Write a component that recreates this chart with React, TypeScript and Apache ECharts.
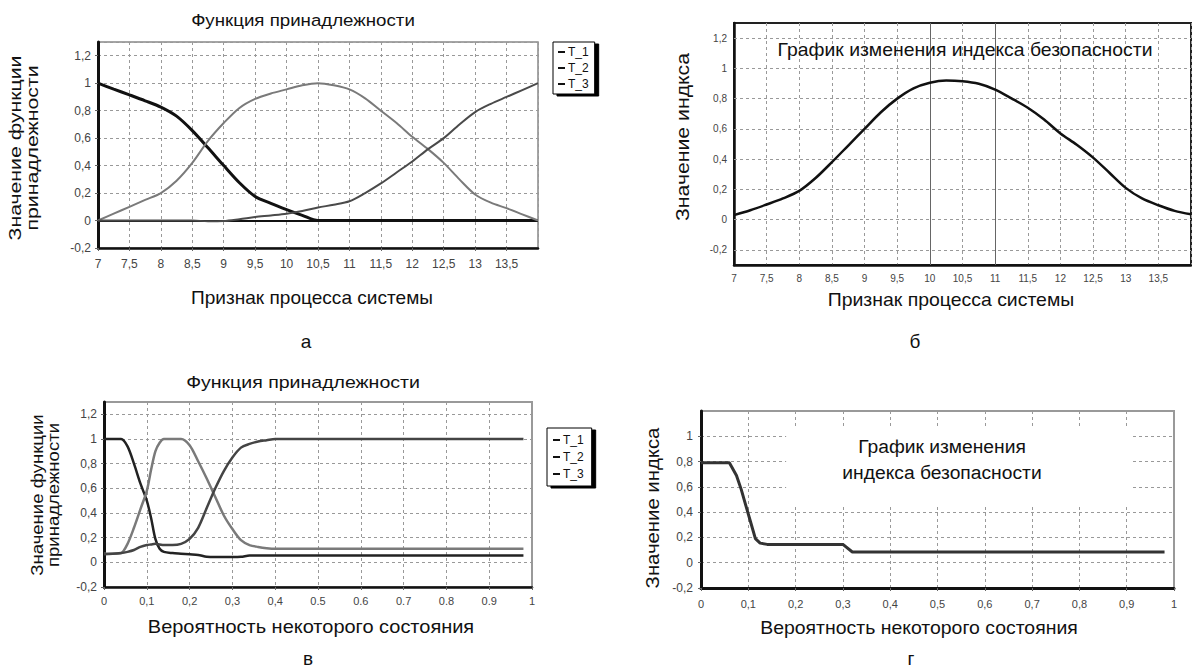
import React, { useEffect, useRef } from "react";
import * as echarts from "echarts";

// ---------- Panel а: membership functions over process feature ----------
const xA = [7, 7.25, 7.5, 7.75, 8, 8.25, 8.5, 8.75, 9, 9.25, 9.5, 9.75, 10, 10.25, 10.5, 10.75, 11, 11.25, 11.5, 11.75, 12, 12.25, 12.5, 12.75, 13, 13.25, 13.5, 13.75, 14];
const aT1 = [1.0, 0.957, 0.915, 0.872, 0.826, 0.76, 0.655, 0.53, 0.4, 0.275, 0.175, 0.125, 0.08, 0.038, 0, 0, 0, 0, 0, 0, 0, 0, 0, 0, 0, 0, 0, 0, 0];
const aT2 = [0, 0.05, 0.1, 0.15, 0.2, 0.29, 0.42, 0.58, 0.71, 0.82, 0.886, 0.925, 0.955, 0.985, 1.0, 0.985, 0.955, 0.89, 0.8, 0.71, 0.61, 0.52, 0.42, 0.3, 0.19, 0.13, 0.09, 0.045, 0];
const aT3 = [0, 0, 0, 0, 0, 0, 0, -0.005, -0.003, 0.01, 0.025, 0.037, 0.05, 0.07, 0.095, 0.115, 0.14, 0.2, 0.27, 0.35, 0.43, 0.52, 0.6, 0.7, 0.79, 0.85, 0.9, 0.95, 1.0];

// ---------- Panel б: safety index over process feature ----------
const xB = [7, 7.25, 7.5, 7.75, 8, 8.25, 8.5, 8.75, 9, 9.25, 9.5, 9.75, 10, 10.25, 10.5, 10.75, 11, 11.25, 11.5, 11.75, 12, 12.25, 12.5, 12.75, 13, 13.25, 13.5, 13.75, 14];
const bIndex = [0.03, 0.062, 0.1, 0.14, 0.19, 0.275, 0.38, 0.49, 0.6, 0.71, 0.8, 0.868, 0.905, 0.92, 0.915, 0.898, 0.86, 0.802, 0.74, 0.662, 0.57, 0.495, 0.41, 0.31, 0.21, 0.14, 0.095, 0.058, 0.035];
const bMarkersX = [10, 11];
const bGridY = [-0.2, 0, 0.2, 0.4, 0.6, 0.8, 1.0, 1.2];

// ---------- Panel в: membership functions over probability ----------
const xV = [0, 0.02, 0.04, 0.055, 0.07, 0.085, 0.1, 0.11, 0.12, 0.13, 0.14, 0.16, 0.18, 0.2, 0.22, 0.24, 0.26, 0.28, 0.3, 0.32, 0.34, 0.36, 0.38, 0.4, 0.5, 0.6, 0.7, 0.8, 0.9, 0.98];
const vT1 = [1, 1, 1, 0.94, 0.8, 0.64, 0.5, 0.36, 0.19, 0.11, 0.085, 0.075, 0.07, 0.065, 0.06, 0.045, 0.043, 0.043, 0.043, 0.045, 0.055, 0.056, 0.056, 0.056, 0.056, 0.056, 0.056, 0.056, 0.056, 0.056];
const vT2 = [0.07, 0.07, 0.075, 0.15, 0.28, 0.43, 0.58, 0.75, 0.9, 0.97, 1.0, 1.0, 1.0, 0.95, 0.82, 0.68, 0.53, 0.38, 0.27, 0.18, 0.14, 0.125, 0.115, 0.11, 0.11, 0.11, 0.11, 0.11, 0.11, 0.11];
const vT3 = [0.065, 0.07, 0.075, 0.085, 0.1, 0.125, 0.14, 0.145, 0.15, 0.145, 0.14, 0.14, 0.15, 0.19, 0.28, 0.44, 0.6, 0.74, 0.85, 0.93, 0.96, 0.98, 0.99, 1.0, 1.0, 1.0, 1.0, 1.0, 1.0, 1.0];
const xLabelsV = ["0", "0,1", "0,2", "0,3", "0,4", "0.5", "0.6", "0.7", "0.8", "0.9", "1"];

// ---------- Panel г: safety index over probability ----------
const xG = [0, 0.06, 0.075, 0.085, 0.095, 0.105, 0.115, 0.125, 0.14, 0.3, 0.32, 0.98];
const gIndex = [0.79, 0.79, 0.69, 0.58, 0.45, 0.32, 0.19, 0.155, 0.145, 0.145, 0.085, 0.085];
const xLabelsG = ["0", "0,1", "0,2", "0,3", "0,4", "0,5", "0,6", "0,7", "0,8", "0,9", "1"];
const gTextBox = [[0.18, 0.45], [0.91, 1.07]];

const seriesNames = ["T_1", "T_2", "T_3"];

const FONT = "'Liberation Sans', Arial, sans-serif";
const pair = (xs: number[], ys: number[]) => xs.map((x, i) => [x, ys[i]]);
const comma = (v: number) => String(Math.round(v * 100) / 100).replace(".", ",");

const grid = { color: "#999", type: [3, 3] as any, width: 1 };
const lbl = { color: "#444", fontSize: 11, fontFamily: FONT };

export default function App() {
  const ref = useRef<HTMLDivElement>(null);
  useEffect(() => {
    const chart = echarts.init(ref.current!, null, { renderer: "svg" });
    const darkAxis = (w: number) => ({ show: true, onZero: false, lineStyle: { color: "#111", width: w } });
    const tick = { show: true, length: 3, lineStyle: { color: "#666" } };

    const legendBase = {
      orient: "vertical",
      icon: "rect",
      itemWidth: 7,
      itemHeight: 2,
      itemGap: 4,
      padding: [4, 6, 4, 5],
      backgroundColor: "#fff",
      borderColor: "#000",
      borderWidth: 1,
      shadowColor: "#000",
      shadowOffsetX: 4,
      shadowOffsetY: 2,
      shadowBlur: 0,
      textStyle: { fontSize: 12, fontFamily: FONT, color: "#111", padding: [0, 0, 0, -2] },
      data: seriesNames.map((n) => ({ name: n, itemStyle: { color: "#111" } })),
    };

    const txt = (text: string, x: number, y: number, size: number, extra: any = {}) => ({
      type: "text",
      x,
      y,
      z: 20,
      rotation: extra.rotation || 0,
      scaleX: extra.sx || 1,
      style: {
        text,
        fontSize: size,
        fontFamily: FONT,
        fill: "#111",
        align: "center",
        verticalAlign: "middle",
        lineHeight: extra.lineHeight || size + 2,
      },
    });
    const R = Math.PI / 2;

    const option: any = {
      animation: false,
      backgroundColor: "#fff",
      grid: [
        { left: 98, top: 42, width: 440, height: 206, show: true, borderColor: "#888", borderWidth: 1.5 },
        { left: 734, top: 23, width: 457, height: 242, show: true, borderColor: "#222", borderWidth: 2 },
        { left: 104, top: 402, width: 428, height: 185, show: true, borderColor: "#999", borderWidth: 2 },
        { left: 701, top: 411, width: 473, height: 177, show: true, borderColor: "#999", borderWidth: 2 },
      ],
      xAxis: [
        {
          gridIndex: 0, type: "value", min: 7, max: 14, interval: 0.5,
          axisLine: darkAxis(2.5), axisTick: tick, splitLine: { lineStyle: grid },
          axisLabel: { ...lbl, fontSize: 12, margin: 10, showMaxLabel: false, formatter: comma },
        },
        {
          gridIndex: 1, type: "value", min: 7, max: 14, interval: 0.5,
          axisLine: darkAxis(2.5), axisTick: { show: false }, splitLine: { lineStyle: grid },
          axisLabel: { ...lbl, fontSize: 10, margin: 8, showMaxLabel: false, formatter: comma },
        },
        {
          gridIndex: 2, type: "value", min: 0, max: 1, interval: 0.1,
          axisLine: darkAxis(2.5), axisTick: tick, splitLine: { lineStyle: grid },
          axisLabel: { ...lbl, margin: 8, formatter: (v: number) => xLabelsV[Math.round(v * 10)] },
        },
        {
          gridIndex: 3, type: "value", min: 0, max: 1, interval: 0.1,
          axisLine: darkAxis(3), axisTick: tick, splitLine: { lineStyle: grid },
          axisLabel: { ...lbl, margin: 10, formatter: (v: number) => xLabelsG[Math.round(v * 10)] },
        },
      ],
      yAxis: [
        {
          gridIndex: 0, type: "value", min: -0.2, max: 1.3, interval: 0.2,
          axisLine: darkAxis(3), axisTick: tick, splitLine: { lineStyle: grid },
          axisLabel: { ...lbl, fontSize: 12, margin: 7, showMaxLabel: false, formatter: comma },
        },
        {
          gridIndex: 1, type: "value", min: -0.3, max: 1.3, interval: 0.1,
          axisLine: darkAxis(2.5), axisTick: { show: false }, splitLine: { show: false },
          axisLabel: {
            ...lbl, fontSize: 10, margin: 7,
            formatter: (v: number) => (bGridY.some((g) => Math.abs(g - v) < 1e-6) ? comma(v) : ""),
          },
        },
        {
          gridIndex: 2, type: "value", min: -0.2, max: 1.3, interval: 0.2,
          axisLine: darkAxis(3), axisTick: tick, splitLine: { lineStyle: grid },
          axisLabel: { ...lbl, fontSize: 12, margin: 7, showMaxLabel: false, formatter: comma },
        },
        {
          gridIndex: 3, type: "value", min: -0.2, max: 1.2, interval: 0.2,
          axisLine: darkAxis(3), axisTick: tick, splitLine: { lineStyle: grid },
          axisLabel: { ...lbl, fontSize: 12, margin: 8, showMaxLabel: false, formatter: comma },
        },
      ],
      legend: [
        { ...legendBase, left: 553, top: 42 },
        { ...legendBase, left: 547, top: 428, itemGap: 5, padding: [6, 8, 6, 6] },
      ],
      series: [
        {
          name: "T_1", type: "line", xAxisIndex: 0, yAxisIndex: 0, data: pair(xA, aT1),
          showSymbol: false, smooth: 0.3, lineStyle: { color: "#111", width: 3 }, itemStyle: { color: "#111" },
          markLine: {
            silent: true, symbol: "none", z: 1, label: { show: false },
            lineStyle: { color: "#111", width: 2, type: "solid" }, data: [{ yAxis: 0 }],
          },
        },
        {
          name: "T_2", type: "line", xAxisIndex: 0, yAxisIndex: 0, data: pair(xA, aT2),
          showSymbol: false, smooth: 0.3, lineStyle: { color: "#7a7a7a", width: 2 }, itemStyle: { color: "#7a7a7a" },
        },
        {
          name: "T_3", type: "line", xAxisIndex: 0, yAxisIndex: 0, data: pair(xA, aT3),
          showSymbol: false, smooth: 0.3, lineStyle: { color: "#4a4a4a", width: 2 }, itemStyle: { color: "#4a4a4a" },
        },
        {
          name: "Индекс", type: "line", xAxisIndex: 1, yAxisIndex: 1, data: pair(xB, bIndex),
          showSymbol: false, smooth: 0.3, lineStyle: { color: "#111", width: 2.5 }, itemStyle: { color: "#111" },
          markLine: {
            silent: true, symbol: "none", z: 1, label: { show: false },
            data: [
              ...bGridY.map((v) => ({ yAxis: v, lineStyle: { ...grid } })),
              ...bMarkersX.map((v) => ({ xAxis: v, lineStyle: { color: "#666", width: 1, type: "solid" } })),
            ],
          },
        },
        {
          name: "T_1", type: "line", xAxisIndex: 2, yAxisIndex: 2, data: pair(xV, vT1),
          showSymbol: false, smooth: 0.3, lineStyle: { color: "#222", width: 2.5 }, itemStyle: { color: "#222" },
        },
        {
          name: "T_2", type: "line", xAxisIndex: 2, yAxisIndex: 2, data: pair(xV, vT2),
          showSymbol: false, smooth: 0.3, lineStyle: { color: "#7a7a7a", width: 2.5 }, itemStyle: { color: "#7a7a7a" },
        },
        {
          name: "T_3", type: "line", xAxisIndex: 2, yAxisIndex: 2, data: pair(xV, vT3),
          showSymbol: false, smooth: 0.3, lineStyle: { color: "#444", width: 2.5 }, itemStyle: { color: "#444" },
        },
        {
          name: "Индекс г", type: "line", xAxisIndex: 3, yAxisIndex: 3, data: pair(xG, gIndex),
          showSymbol: false, lineStyle: { color: "#333", width: 3 }, itemStyle: { color: "#333" },
          markArea: {
            silent: true, itemStyle: { color: "#fff" },
            data: [[{ xAxis: gTextBox[0][0], yAxis: gTextBox[0][1] }, { xAxis: gTextBox[1][0], yAxis: gTextBox[1][1] }]],
          },
        },
      ],
      graphic: [
        txt("Функция принадлежности", 303, 20, 17, { sx: 1.1 }),
        txt("Признак процесса системы", 312, 298, 18, { sx: 1.06 }),
        txt("Значение функции\nпринадлежности", 24, 148, 17, { rotation: R, lineHeight: 17, sx: 1.25 }),
        txt("а", 306, 341, 19),
        txt("График изменения индекса безопасности", 965, 50, 19, { sx: 1.02 }),
        txt("Значение индкса", 683, 137, 18, { rotation: R, sx: 1.18 }),
        txt("Признак процесса системы", 951, 300, 18, { sx: 1.08 }),
        txt("б", 915, 341, 19),
        txt("Функция принадлежности", 303, 382, 17, { sx: 1.15 }),
        txt("Значение функции\nпринадлежности", 45, 495, 16, { rotation: R, lineHeight: 16, sx: 1.16 }),
        txt("Вероятность некоторого состояния", 311, 627, 18, { sx: 1.11 }),
        txt("в", 308, 658, 19),
        txt("График изменения\nиндекса безопасности", 942, 460, 18, { lineHeight: 26, sx: 1.07 }),
        txt("Значение индкса", 653, 508, 18, { rotation: R, sx: 1.13 }),
        txt("Вероятность некоторого состояния", 919, 628, 18, { sx: 1.08 }),
        txt("г", 911, 658, 19),
      ],
    };
    chart.setOption(option);
    return () => chart.dispose();
  }, []);
  return (
    <div
      ref={ref}
      style={{ position: "fixed", left: 0, top: 0, width: 1192, height: 670, background: "#fff" }}
    />
  );
}
